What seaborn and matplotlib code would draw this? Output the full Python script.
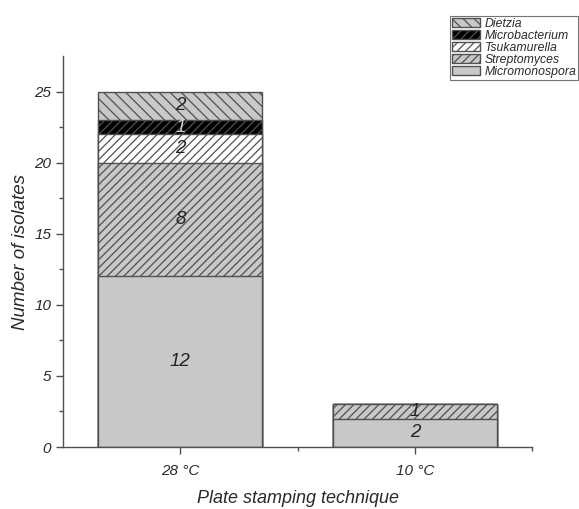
import numpy as np
import pandas as pd
import matplotlib
matplotlib.use("Agg")
import matplotlib.pyplot as plt
import seaborn as sns

# counts per genus
conditions = ["28 °C", "10 °C"]
genera = ["Micromonospora", "Streptomyces", "Tsukamurella", "Microbacterium", "Dietzia"]
micromonospora = [12, 2]
streptomyces = [8, 1]
tsukamurella = [2, 0]
microbacterium = [1, 0]
dietzia = [2, 0]

fills = {
    "Micromonospora": ("#c8c8c8", ""),
    "Streptomyces": ("#c8c8c8", "////"),
    "Tsukamurella": ("#ffffff", "////"),
    "Microbacterium": ("#000000", "////"),
    "Dietzia": ("#c8c8c8", "\\\\\\"),
}

sns.set_style("ticks")
plt.rcParams["font.family"] = ["Liberation Sans", "DejaVu Sans"]
plt.rcParams["font.style"] = "italic"
plt.rcParams["hatch.linewidth"] = 0.9
plt.rcParams["text.color"] = "#2a2a2a"

counts = pd.DataFrame(
    {"Micromonospora": micromonospora, "Streptomyces": streptomyces,
     "Tsukamurella": tsukamurella, "Microbacterium": microbacterium,
     "Dietzia": dietzia},
    index=conditions,
)
cum = counts[genera].cumsum(axis=1)

fig = plt.figure(figsize=(5.79, 5.09), dpi=100)
ax = fig.add_axes([0.109, 0.1218, 0.81, 0.768])

# stacked bars: draw the tallest cumulative layer first
for g in genera[::-1]:
    color, hatch = fills[g]
    sns.barplot(x=conditions, y=cum[g].values, color=color, hatch=hatch,
                edgecolor="#505050", linewidth=1.0, width=0.7, saturation=1,
                label=g, ax=ax)

# segment labels
for i, cond in enumerate(conditions):
    base = 0
    for g in genera:
        v = counts.loc[cond, g]
        if v > 0:
            tc = "#d0d0d0" if g == "Microbacterium" else "#222222"
            ax.text(i, base + v / 2, str(v), ha="center", va="center",
                    fontsize=13.5, color=tc)
        base += v

ax.set_xlim(-0.5, 1.5)
ax.set_ylim(0, 27.5)
ax.set_yticks([0, 5, 10, 15, 20, 25])
ax.set_yticks(np.arange(2.5, 27.5, 5), minor=True)
ax.set_xticks([0.5, 1.5], minor=True)
ax.tick_params(axis="both", which="major", length=5, width=1, color="#505050",
               labelsize=11, labelcolor="#2a2a2a")
ax.tick_params(axis="x", which="major", pad=7)
ax.tick_params(axis="both", which="minor", length=3, width=1, color="#505050")
for s in ["left", "bottom"]:
    ax.spines[s].set_color("#505050")
    ax.spines[s].set_linewidth(1.0)
sns.despine(ax=ax)

ax.set_xlabel("Plate stamping technique", fontsize=13, color="#2a2a2a", labelpad=9)
ax.set_ylabel("Number of isolates", fontsize=13.5, color="#2a2a2a", labelpad=4)

leg = ax.legend(loc="upper right", bbox_to_anchor=(0.999, 1 - 16 / 509),
                bbox_transform=fig.transFigure, fontsize=8.8, frameon=True,
                fancybox=False, handlelength=2.3, handleheight=0.75,
                labelspacing=0.0, handletextpad=0.35, borderpad=0.15,
                borderaxespad=0)
leg.get_frame().set_edgecolor("#505050")
leg.get_frame().set_linewidth(0.8)

fig.savefig("out.png", dpi=100)
